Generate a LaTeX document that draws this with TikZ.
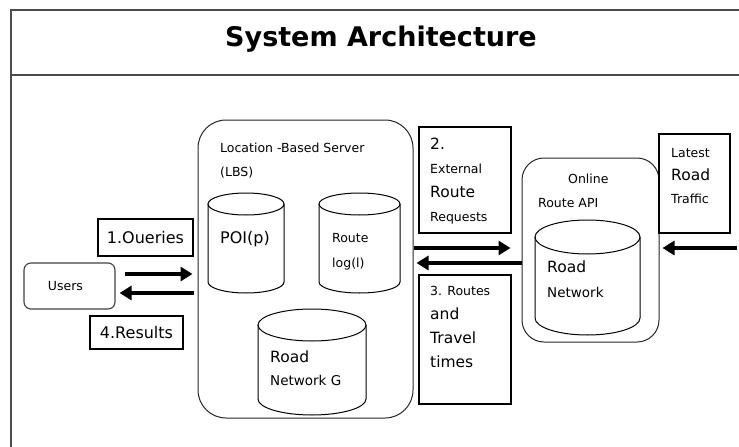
\documentclass[tikz,border=0pt]{standalone}
\usepackage{fontspec}
\setmainfont{DejaVu Sans}
\usetikzlibrary{arrows.meta,calc}
\tikzset{
  frameline/.style={draw=black!70, line width=1.4pt},
  box/.style={draw=black, line width=1.1pt, inner sep=0pt, align=center, font=\fontsize{16}{18}\selectfont},
  roundbox/.style={draw=black!85, line width=1pt, rounded corners=#1, inner sep=0pt},
  lbl/.style={anchor=base west, inner sep=0pt, align=left, font=\fontsize{12.5}{24}\selectfont},
  bigarrow/.style={-{Triangle[length=12pt,width=14pt]}, line width=3.8pt},
  drumline/.style={draw=black, line width=1pt}
}
\newcommand{\bigtxt}[1]{{\fontsize{15.5}{24}\selectfont #1}}
% cylinder: left x, top y, width, height, half height of the lid
\newcommand{\drum}[5]{%
  \draw[drumline] (#1,-#2-#5) -- (#1,-#2-#4+#5)
    arc[start angle=180, end angle=360, x radius=#3/2, y radius=#5]
    -- (#1+#3,-#2-#5);
  \draw[drumline] (#1+#3/2,-#2-#5) ellipse[x radius=#3/2, y radius=#5];
}
\begin{document}
\begin{tikzpicture}[x=1pt, y=1pt]
\useasboundingbox (0,0) rectangle (739,-447);
% frame and title
\draw[frameline] (11,-447) -- (11,-10) -- (739,-10);
\draw[frameline] (11,-75) -- (739,-75);
\node[font=\fontsize{27}{30}\selectfont\bfseries] (title) at (381,-39) {System Architecture};

% users side
\node[box, draw=black!75, rounded corners=7pt, minimum width=91pt, minimum height=46pt, font=\fontsize{12.5}{14}\selectfont] (users) at (69.5,-286) {\hspace*{-8pt}Users};
\node[box, minimum width=95pt, minimum height=37pt] (queries) at (145.5,-237.5) {1.Oueries};
\node[box, minimum width=93pt, minimum height=33pt] (results) at (136.5,-332.5) {4.Results};

% server
\node[roundbox=28pt, minimum width=215pt, minimum height=298pt] (lbs) at (305.5,-269) {};
\node[lbl] (lbstitle) at (220,-176) {Location -Based Server\\(LBS)};
\drum{208}{193}{76}{100}{11}
\drum{319}{193}{81}{100}{11}
\drum{258}{309}{108}{106}{16}
\node[lbl, font=\fontsize{16}{24}\selectfont] (poi) at (220,-243) {POI(p)};
\node[lbl, font=\fontsize{12.5}{25}\selectfont] (routelog) at (332,-267) {Route\\log(l)};
\node[lbl, font=\fontsize{13.5}{23}\selectfont] (roadg) at (270,-385) {\bigtxt{Road}\\Network G};

% messages between server and api
\node[box, minimum width=92pt, minimum height=106pt] (reqs) at (465,-180) {};
\node[box, minimum width=92pt, minimum height=129pt] (routes) at (465,-339.5) {};
\node[lbl, font=\fontsize{12.5}{23.7}\selectfont] (reqtxt) at (430,-221) {\bigtxt{2.}\\External\\\bigtxt{Route}\\Requests};
\node[lbl] (routetxt) at (430,-367) {3. Routes\\\bigtxt{and}\\\bigtxt{Travel}\\\bigtxt{times}};

% online api
\node[roundbox=22pt, minimum width=137pt, minimum height=184pt] (api) at (590.5,-250) {};
\node[lbl] (apititle) at (538,-207) {\hspace*{30pt}Online\\Route API};
\drum{535}{220}{105}{115}{17}
\node[lbl, font=\fontsize{13.5}{25}\selectfont] (roadnet) at (547,-297) {\bigtxt{Road}\\Network};
\node[box, minimum width=71pt, minimum height=99pt] (traffic) at (694.5,-183.5) {};
\node[lbl, font=\fontsize{12.5}{23}\selectfont] (traffictxt) at (671,-203) {Latest\\\bigtxt{Road}\\Traffic};
\coordinate (feed) at (737,-248);

% arrows
\draw[bigarrow, shorten <=9pt, shorten >=5pt] ([yshift=12pt]users.east) -- ([yshift=12pt]users.east -| lbs.west);
\draw[bigarrow, shorten <=4pt, shorten >=4pt] ([yshift=-7pt]users.east -| lbs.west) -- ([yshift=-7pt]users.east);
\draw[bigarrow, shorten >=11pt] ([yshift=21pt]lbs.east) -- ([yshift=21pt]lbs.east -| api.west);
\draw[bigarrow, shorten >=3pt] ([yshift=-13pt]api.west) -- ([yshift=-13pt]api.west -| lbs.east);
\draw[bigarrow, shorten >=3pt] (feed) -- (feed -| api.east);
\end{tikzpicture}
\end{document}
